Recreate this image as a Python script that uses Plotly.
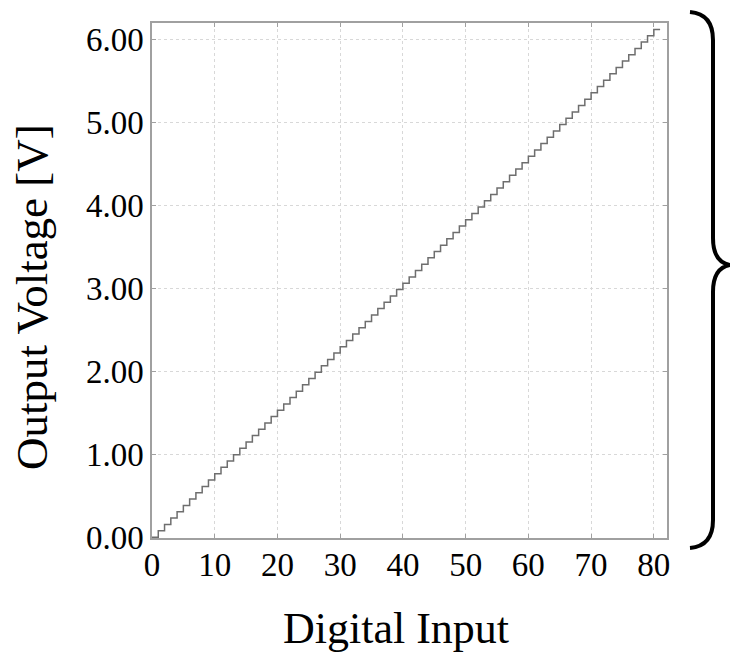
import plotly.graph_objects as go

# ---- data ----
digital_input = list(range(0, 82))
output_voltage = [
    0.000, 0.077, 0.153, 0.230, 0.306, 0.383, 0.459, 0.536, 0.612, 0.689,
    0.765, 0.842, 0.919, 0.995, 1.072, 1.148, 1.225, 1.301, 1.378, 1.454,
    1.531, 1.607, 1.684, 1.760, 1.837, 1.914, 1.990, 2.067, 2.143, 2.220,
    2.296, 2.373, 2.449, 2.526, 2.602, 2.679, 2.756, 2.832, 2.909, 2.985,
    3.062, 3.138, 3.215, 3.291, 3.368, 3.444, 3.521, 3.598, 3.674, 3.751,
    3.827, 3.904, 3.980, 4.057, 4.133, 4.210, 4.286, 4.363, 4.440, 4.516,
    4.593, 4.669, 4.746, 4.822, 4.899, 4.975, 5.052, 5.128, 5.205, 5.281,
    5.358, 5.435, 5.511, 5.588, 5.664, 5.741, 5.817, 5.894, 5.970, 6.047,
    6.123, 6.123,
]
x_tickvals = [0, 10, 20, 30, 40, 50, 60, 70, 80]
x_ticktext = ["0", "10", "20", "30", "40", "50", "60", "70", "80"]
y_tickvals = [0, 1, 2, 3, 4, 5, 6]
y_ticktext = ["0.00", "1.00", "2.00", "3.00", "4.00", "5.00", "6.00"]
x_title = "Digital Input"
y_title = "Output Voltage [V]"

FONT = "Liberation Serif, Times New Roman, serif"
W, H = 730, 653
L, R, T, B = 152, 63, 23, 115
PW, PH = W - L - R, H - T - B

fig = go.Figure()
fig.add_trace(go.Scatter(
    x=digital_input, y=output_voltage, mode="lines",
    line=dict(shape="hv", color="#6e6e6e", width=1.5),
    showlegend=False, hoverinfo="skip",
))

axis_common = dict(
    showline=True, linecolor="#a0a0a0", linewidth=1.5, mirror="allticks",
    ticks="inside", ticklen=4, tickcolor="#a0a0a0", tickwidth=1,
    showgrid=True, gridcolor="#d8d8d8", griddash="dot", gridwidth=1,
    zeroline=False, tickfont=dict(family=FONT, size=33, color="black"),
)

fig.update_xaxes(range=[0, 82.1], tickvals=x_tickvals, ticktext=x_ticktext,
                 ticklabelstandoff=-3, **axis_common)
fig.update_yaxes(range=[-0.01, 6.2], tickvals=y_tickvals, ticktext=y_ticktext, **axis_common)


def px2paper(px, py):
    return (px - L) / PW, (H - B - py) / PH


def P(px, py):
    x, y = px2paper(px, py)
    return f"{x:.5f},{y:.5f}"


# axis titles as annotations for exact placement
xt = px2paper(396, 628)
fig.add_annotation(x=xt[0], y=xt[1], xref="paper", yref="paper", text=x_title,
                   showarrow=False, xanchor="center", yanchor="middle",
                   font=dict(family=FONT, size=44, color="black"))
yt = px2paper(32, 297)
fig.add_annotation(x=yt[0], y=yt[1], xref="paper", yref="paper", text=y_title,
                   showarrow=False, xanchor="center", yanchor="middle", textangle=-90,
                   font=dict(family=FONT, size=45, color="black"))

brace = (
    f"M {P(690, 12)} Q {P(713, 14)} {P(713, 40)} L {P(713, 238)} "
    f"Q {P(713, 262)} {P(730, 265)} Q {P(713, 268)} {P(713, 292)} "
    f"L {P(713, 520)} Q {P(713, 546)} {P(690, 548)}"
)
fig.add_shape(type="path", xref="paper", yref="paper", path=brace,
              line=dict(color="black", width=4), layer="above")

fig.update_layout(
    width=W, height=H,
    margin=dict(l=L, r=R, t=T, b=B, autoexpand=False),
    plot_bgcolor="white", paper_bgcolor="white",
    font=dict(family=FONT, color="black"),
)

fig.write_html("out.html")
